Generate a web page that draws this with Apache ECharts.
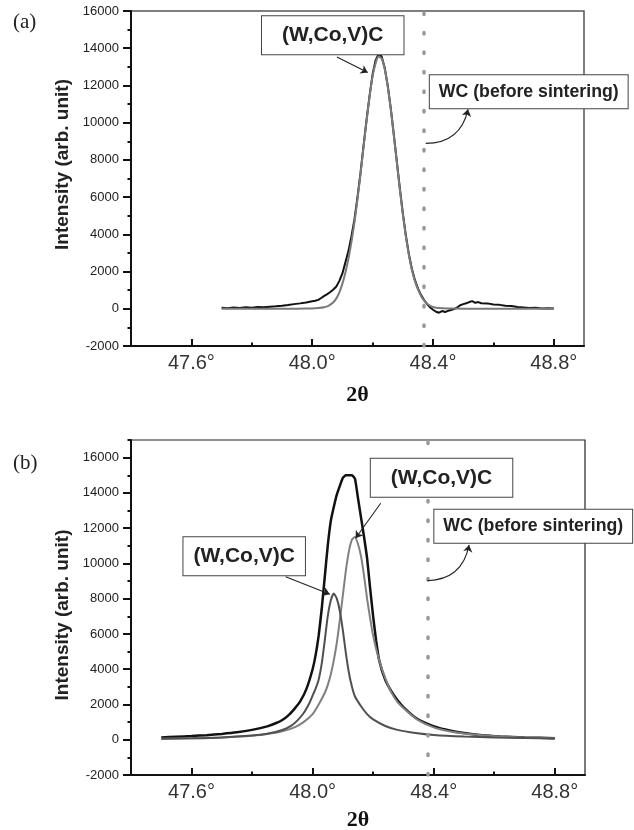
<!DOCTYPE html>
<html><head><meta charset="utf-8">
<script src="https://cdn.jsdelivr.net/npm/echarts@6/dist/echarts.min.js"></script>
<style>html,body{margin:0;padding:0;background:#fff}#c{width:634px;height:830px}</style>
</head><body><div id="c"></div>
<script>
// ---------- data ----------
const xTicks = [47.6, 48.0, 48.4, 48.8];
const xMinorTicks = [47.8, 48.2, 48.6];
const yTicks = [-2000, 0, 2000, 4000, 6000, 8000, 10000, 12000, 14000, 16000];
const yMinorTicksA = [-1000, 1000, 3000, 5000, 7000, 9000, 11000, 13000, 15000];
const yMinorTicksB = [-1000, 1000, 3000, 5000, 7000, 9000, 11000, 13000, 15000, 17000];

// panel (a): measured pattern (black)
const aDataX = [47.70,47.72,47.74,47.76,47.78,47.80,47.82,47.84,47.86,47.88,47.90,47.92,47.94,47.96,47.98,
  48.00,48.01,48.02,48.03,48.04,48.05,48.06,48.07,48.08,48.09,48.10,48.11,48.12,48.13,48.14,48.15,48.16,48.17,48.18,48.19,
  48.20,48.21,48.22,48.23,48.24,48.25,48.26,48.27,48.28,48.29,48.30,48.31,48.32,48.33,48.34,48.35,48.36,48.37,48.38,48.39,
  48.40,48.41,48.42,48.43,48.44,48.45,48.46,48.47,48.48,48.49,48.50,48.51,48.52,48.53,48.54,48.55,48.56,
  48.58,48.60,48.62,48.64,48.66,48.68,48.70,48.72,48.74,48.76,48.78,48.80];
const aDataY = [50,30,70,40,80,60,90,80,110,130,160,200,250,290,340,
  400,430,480,580,690,790,900,1040,1200,1500,1900,2500,3100,3900,4800,6000,7300,8750,10150,11450,
  12600,13350,13700,13550,12950,12000,10800,9400,7950,6500,5150,3950,2950,2150,1550,1100,750,480,260,80,
  -50,-160,-210,-120,-170,-110,-70,-20,70,190,250,300,360,410,320,360,300,
  290,230,210,160,150,90,70,40,50,20,30,20];
// panel (a): fitted profile (gray)
const aFitX = [47.70,47.80,47.90,47.95,48.00,48.02,48.04,
  48.05,48.06,48.07,48.08,48.09,48.10,48.11,48.12,48.13,48.14,48.15,48.16,48.17,48.18,48.19,48.20,48.21,48.22,
  48.23,48.24,48.25,48.26,48.27,48.28,48.29,48.30,48.31,48.32,48.33,48.34,48.35,48.36,48.37,48.38,48.39,48.40,
  48.42,48.45,48.50,48.60,48.70,48.80];
const aFitY = [0,0,0,5,20,40,80,
  130,220,350,560,880,1350,1950,2700,3600,4650,5900,7250,8700,10100,11400,12500,13200,13550,
  13450,12900,11950,10750,9350,7900,6450,5100,3900,2900,2100,1500,1050,700,450,280,170,100,
  40,15,5,0,0,0];

// panel (b): total profile (black)
const bSumX = [47.50,47.55,47.60,47.65,47.70,47.75,47.80,47.85,47.88,47.90,47.92,47.94,47.96,47.98,
  48.00,48.01,48.02,48.03,48.04,48.05,48.06,48.07,48.08,48.09,48.10,48.11,48.12,48.13,48.14,48.15,48.16,48.17,48.18,48.19,48.20,48.21,48.22,
  48.24,48.26,48.28,48.30,48.34,48.38,48.42,48.46,48.50,48.56,48.62,48.70,48.80];
const bSumY = [130,170,210,260,330,420,560,760,950,1120,1380,1750,2200,2900,
  4000,4800,5900,7400,9200,11000,12400,13200,13900,14400,14850,15000,15000,15000,14800,13700,12600,11500,10300,8600,7000,5600,4500,
  3400,2750,2250,1850,1250,900,650,500,380,260,190,130,90];
// panel (b): (W,Co,V)C component at higher angle (light gray)
const bPeak1X = [47.50,47.60,47.70,47.80,47.85,47.90,47.94,47.97,48.00,48.02,
  48.04,48.05,48.06,48.07,48.08,48.09,48.10,48.11,48.12,48.13,
  48.14,48.15,48.16,48.17,48.18,48.19,48.20,48.22,48.24,48.26,
  48.28,48.31,48.35,48.40,48.45,48.50,48.56,48.62,48.70,48.80];
const bPeak1Y = [50,80,130,220,320,480,700,1000,1450,2000,
  2650,3100,3700,4500,5500,6800,8200,9600,10700,11350,
  11500,11100,10400,9300,8000,6900,5900,4500,3500,2700,
  2150,1650,1100,700,480,350,250,180,130,90];
// panel (b): (W,Co,V)C component at lower angle (dark gray)
const bPeak2X = [47.50,47.60,47.70,47.80,47.85,47.90,47.93,47.95,47.97,47.99,
  48.00,48.01,48.02,48.03,48.04,48.05,48.06,48.07,48.08,48.09,48.10,48.11,48.12,48.13,48.14,
  48.16,48.18,48.20,48.24,48.28,48.34,48.40,48.50,48.60,48.70,48.80];
const bPeak2Y = [50,80,130,240,340,550,800,1100,1500,2100,
  2500,2900,3400,4300,5600,7000,7900,8300,8000,7300,6200,4900,3800,3000,2450,
  1900,1450,1150,780,560,380,270,180,130,100,70];

const wcPositionA = 48.372;
const wcPositionB = 48.376;

// annotation anchors (data coordinates)
const aArrows = [[[48.082, 13530], [48.184, 12690]]];
const aCurved = [[[48.376, 8890], [48.516, 10720]]];
const bArrows = [[[48.225, 13410], [48.142, 11430]], [[47.911, 9250], [48.057, 8250]]];
const bCurved = [[[48.379, 9020], [48.517, 11050]]];

// ---------- chart ----------
const SANS = 'Liberation Sans, Arial, Helvetica, sans-serif';
const SERIF = 'Liberation Serif, Times New Roman, serif';
const X_MIN = 47.4, X_MAX = 48.9;
const zip = (xs, ys) => xs.map((x, i) => [x, ys[i]]);

function xMain(gi, nameGap) {
  return {
    type: 'value', gridIndex: gi, min: X_MIN, max: X_MAX, position: 'bottom',
    axisLine: { show: true, onZero: false, lineStyle: { color: '#111', width: 2 } },
    axisTick: { show: true, inside: true, length: 7, customValues: xTicks, lineStyle: { color: '#111', width: 2 } },
    axisLabel: { show: true, customValues: xTicks, formatter: v => Number(v).toFixed(1) + '°',
      fontSize: 20, color: '#333', margin: 7, fontFamily: SANS },
    splitLine: { show: false },
    name: '2θ', nameLocation: 'middle', nameGap: nameGap,
    nameTextStyle: { fontFamily: SERIF, fontWeight: 'bold', fontSize: 22, color: '#111' }
  };
}
function xMinor(gi) {
  return {
    type: 'value', gridIndex: gi, min: X_MIN, max: X_MAX, position: 'bottom',
    axisLine: { show: false, onZero: false },
    axisTick: { show: true, inside: true, length: 3.5, customValues: xMinorTicks, lineStyle: { color: '#111', width: 2 } },
    axisLabel: { show: false }, splitLine: { show: false }
  };
}
function yMain(gi, max, pad) {
  return {
    type: 'value', gridIndex: gi, min: -2000, max: max, position: 'left',
    axisLine: { show: true, onZero: false, lineStyle: { color: '#111', width: 2 } },
    axisTick: { show: true, inside: false, length: 8, customValues: yTicks, lineStyle: { color: '#111', width: 2 } },
    axisLabel: { show: true, customValues: yTicks, formatter: v => String(Math.round(v)),
      fontSize: 13, color: '#222', margin: 12, fontFamily: SANS },
    splitLine: { show: false },
    name: 'Intensity (arb. unit)', nameLocation: 'middle', nameGap: 55,
    nameTextStyle: { fontFamily: SANS, fontWeight: 'bold', fontSize: 19, color: '#222', padding: pad }
  };
}
function yMinor(gi, max, ticks) {
  return {
    type: 'value', gridIndex: gi, min: -2000, max: max, position: 'left',
    axisLine: { show: false, onZero: false },
    axisTick: { show: true, inside: false, length: 3.5, customValues: ticks, lineStyle: { color: '#111', width: 2 } },
    axisLabel: { show: false }, splitLine: { show: false }
  };
}

function boxLabel(text, size, lh, pad) {
  return { show: true, position: 'inside', formatter: text, fontFamily: SANS, fontWeight: 'bold',
    fontSize: size, lineHeight: lh, color: '#222', backgroundColor: '#fff',
    borderColor: '#444', borderWidth: 1, padding: pad };
}
function arrowSeries(xi, yi, pairs, curveness) {
  return {
    type: 'lines', coordinateSystem: 'cartesian2d', xAxisIndex: xi, yAxisIndex: yi,
    silent: true, animation: false, z: 6,
    symbol: ['none', 'arrow'], symbolSize: [0, 7],
    lineStyle: { color: '#222', width: 1.1, opacity: 1, curveness: curveness },
    itemStyle: { color: '#222' },
    data: pairs.map(p => ({ coords: p }))
  };
}
const dotted = { color: '#999', width: 3.5, type: [1.5, 18], cap: 'round' };

const option = {
  animation: false,
  backgroundColor: '#fff',
  grid: [
    { left: 131, top: 11, width: 453, height: 335, show: true, borderColor: '#555', borderWidth: 1.5, backgroundColor: 'transparent', outerBoundsMode: 'none' },
    { left: 131, top: 440, width: 454, height: 335, show: true, borderColor: '#222', borderWidth: 1.2, backgroundColor: 'transparent', outerBoundsMode: 'none' }
  ],
  xAxis: [xMain(0, 38), xMinor(0), xMain(1, 34), xMinor(1)],
  yAxis: [yMain(0, 16000, [0, 0, 0, 28]), yMinor(0, 16000, yMinorTicksA),
          yMain(1, 17000, [0, 15, 0, 0]), yMinor(1, 17000, yMinorTicksB)],
  graphic: [
    { type: 'text', left: 13, top: 12, style: { text: '(a)', font: '21px ' + SERIF, fill: '#222' } },
    { type: 'text', left: 13, top: 453, style: { text: '(b)', font: '21px ' + SERIF, fill: '#222' } }
  ],
  series: [
    { type: 'line', xAxisIndex: 0, yAxisIndex: 0, data: zip(aDataX, aDataY), symbol: 'none', showSymbol: false,
      lineStyle: { color: '#111', width: 2 }, clip: false, z: 2,
      markLine: { silent: true, animation: false, symbol: 'none', label: { show: false }, emphasis: { disabled: true },
        data: [ { xAxis: wcPositionA, lineStyle: dotted } ] },
      markPoint: { silent: true, animation: false, symbol: 'rect', symbolSize: 1, itemStyle: { color: 'rgba(0,0,0,0)' },
        data: [
          { coord: [48.068, 14700], label: boxLabel('(W,Co,V)C', 21, 22, [8, 20]) },
          { coord: [48.717, 11660], label: boxLabel('WC (before sintering)', 17.7, 19, [7, 9]) }
        ] }
    },
    { type: 'line', xAxisIndex: 0, yAxisIndex: 0, data: zip(aFitX, aFitY), symbol: 'none', showSymbol: false,
      smooth: 0.2, lineStyle: { color: '#7a7a7a', width: 2 }, z: 3 },
    arrowSeries(0, 0, aArrows, 0),
    arrowSeries(0, 0, aCurved, -0.4),

    { type: 'line', xAxisIndex: 2, yAxisIndex: 2, data: zip(bSumX, bSumY), symbol: 'none', showSymbol: false,
      smooth: 0.15, lineStyle: { color: '#111', width: 2.5 }, clip: false, z: 2,
      markLine: { silent: true, animation: false, symbol: 'none', label: { show: false }, emphasis: { disabled: true },
        data: [ { xAxis: wcPositionB, lineStyle: dotted } ] },
      markPoint: { silent: true, animation: false, symbol: 'rect', symbolSize: 1, itemStyle: { color: 'rgba(0,0,0,0)' },
        data: [
          { coord: [48.426, 14860], label: boxLabel('(W,Co,V)C', 21, 22, [8, 20]) },
          { coord: [47.774, 10410], label: boxLabel('(W,Co,V)C', 21, 22, [8, 10]) },
          { coord: [48.729, 12110], label: boxLabel('WC (before sintering)', 17.7, 19, [7, 9]) }
        ] }
    },
    { type: 'line', xAxisIndex: 2, yAxisIndex: 2, data: zip(bPeak1X, bPeak1Y), symbol: 'none', showSymbol: false,
      smooth: 0.2, lineStyle: { color: '#808080', width: 2 }, z: 3 },
    { type: 'line', xAxisIndex: 2, yAxisIndex: 2, data: zip(bPeak2X, bPeak2Y), symbol: 'none', showSymbol: false,
      smooth: 0.2, lineStyle: { color: '#505050', width: 2 }, z: 3 },
    arrowSeries(2, 2, bArrows, 0),
    arrowSeries(2, 2, bCurved, -0.4)
  ]
};
const chart = echarts.init(document.getElementById('c'), null, { renderer: 'canvas' });
chart.setOption(option);
</script></body></html>
